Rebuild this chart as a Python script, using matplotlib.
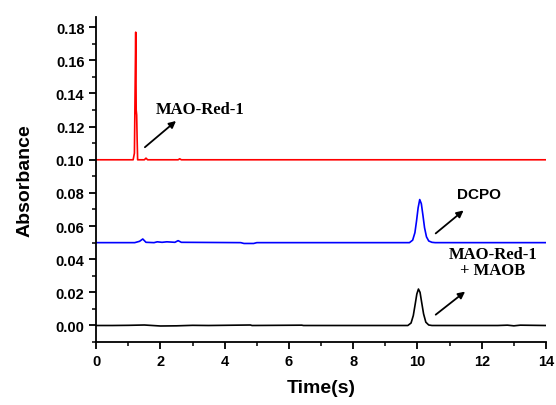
import numpy as np
import matplotlib
matplotlib.use('Agg')
import matplotlib.pyplot as plt
from matplotlib.ticker import MultipleLocator

# red trace: MAO-Red-1 (offset baseline 0.10)
t_red = [0, 0.5, 1.0, 1.15, 1.19, 1.21, 1.23, 1.245, 1.26, 1.275, 1.29, 1.32, 1.5, 1.55, 1.6, 2.55, 2.6, 2.65, 14]
a_red = [0.100, 0.100, 0.100, 0.100, 0.104, 0.140, 0.177, 0.130, 0.127, 0.112, 0.100, 0.100, 0.100, 0.101, 0.100, 0.100, 0.1006, 0.100, 0.100]

# blue trace: DCPO (baseline 0.05)
t_blue = [0, 1.2, 1.35, 1.45, 1.55, 1.8, 1.9, 2.05, 2.2, 2.45, 2.55, 2.65, 4.5, 4.6, 4.9, 5.0,
          9.75, 9.85, 9.92, 9.97, 10.02, 10.07, 10.12, 10.17, 10.22, 10.28, 10.35, 10.45, 10.55, 14]
a_blue = [0.050, 0.050, 0.0508, 0.0522, 0.0502, 0.0500, 0.0505, 0.0502, 0.0505, 0.0502, 0.0512, 0.0502, 0.0500, 0.0495, 0.0495, 0.0500,
          0.0500, 0.0515, 0.0560, 0.0630, 0.0710, 0.0760, 0.0735, 0.0665, 0.0590, 0.0535, 0.0510, 0.0502, 0.0500, 0.0500]

# black trace: MAO-Red-1 + MAOB (baseline 0)
t_blk = [0, 0.5, 1.0, 1.5, 2.0, 2.5, 3.0, 3.5, 4.8, 4.85, 6.4, 6.45,
         9.7, 9.8, 9.87, 9.93, 9.98, 10.03, 10.08, 10.13, 10.19, 10.26, 10.35, 10.45,
         11.5, 12.5, 12.8, 13.0, 13.2, 14]
a_blk = [0.0, 0.0, 0.0001, 0.0003, -0.0003, -0.0002, 0.0001, 0.0, 0.0003, 0.0, 0.0002, 0.0,
         0.0, 0.0015, 0.006, 0.013, 0.019, 0.022, 0.020, 0.014, 0.007, 0.002, 0.0003, 0.0,
         0.0, 0.0, 0.0002, -0.0002, 0.0002, 0.0]

fig = plt.figure(figsize=(5.56, 4.06), dpi=100)
ax = fig.add_axes([0.173, 0.155, 0.809, 0.80])

ax.plot(t_red, a_red, color='#ff0000', lw=1.2)
ax.plot(t_blue, a_blue, color='#0000ff', lw=1.2)
ax.plot(t_blk, a_blk, color='black', lw=1.2)

ax.set_xlim(0, 14)
ax.set_ylim(-0.01, 0.186)
ax.xaxis.set_major_locator(MultipleLocator(2))
ax.xaxis.set_minor_locator(MultipleLocator(1))
ax.yaxis.set_minor_locator(MultipleLocator(0.01))
ax.set_yticks(np.arange(0, 0.181, 0.02))
ax.set_yticklabels(['%.2f' % v for v in np.arange(0, 0.181, 0.02)])

for s in ['top', 'right']:
    ax.spines[s].set_visible(False)
for s in ['left', 'bottom']:
    ax.spines[s].set_linewidth(1.3)

ax.tick_params(which='major', direction='out', length=5, width=1.3, labelsize=10.5)
ax.tick_params(which='minor', direction='out', length=3, width=1.1)
for lab in ax.get_xticklabels() + ax.get_yticklabels():
    lab.set_fontweight('bold')
    lab.set_family('Liberation Sans')

ax.set_xlabel('Time(s)', fontsize=14, fontweight='bold', family='Liberation Sans', labelpad=8)
ax.set_ylabel('Absorbance', fontsize=14, fontweight='bold', family='Liberation Sans', labelpad=16)

arrow = dict(arrowstyle='-|>', color='black', lw=1.3, mutation_scale=10)
ax.annotate('', xy=(2.55, 0.1245), xytext=(1.45, 0.1065), arrowprops=arrow)
ax.text(3.25, 0.1305, 'MAO-Red-1', fontsize=12, fontweight='bold', family='Liberation Serif', ha='center', va='center')

ax.annotate('', xy=(11.5, 0.0705), xytext=(10.5, 0.0545), arrowprops=arrow)
ax.text(11.9, 0.0795, 'DCPO', fontsize=11, fontweight='bold', family='Liberation Sans', ha='center', va='center')

ax.annotate('', xy=(11.55, 0.0215), xytext=(10.5, 0.0055), arrowprops=arrow)
ax.text(12.35, 0.0386, 'MAO-Red-1\n+ MAOB', fontsize=12, fontweight='bold', family='Liberation Serif',
        ha='center', va='center', linespacing=1.0)

fig.savefig('out.png', dpi=100)
